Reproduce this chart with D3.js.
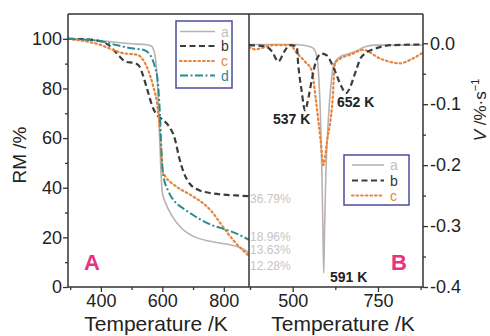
<!DOCTYPE html>
<html><head><meta charset="utf-8">
<script src="https://cdn.jsdelivr.net/npm/d3@7/dist/d3.min.js"></script>
<style>
body{margin:0;background:#fff;}
svg{display:block;font-family:"Liberation Sans",Arial,sans-serif;}
</style></head>
<body><svg id="c" width="490" height="336"></svg>
<script>
// ---- Data: panel A (TG, residual mass %) ----
const tgA_T = [293,400,500,550,565,575,585,590,595,600,610,630,660,700,760,820,850,870,882];
const tgA_V = [100,99.2,98,97.6,97,94,80,65,48,38,34,29,24,20.5,18.3,17,16,14.8,13.6];
const tgB_T = [293,350,400,430,460,480,510,525,535,550,570,585,600,620,640,655,670,690,720,760,800,840,882];
const tgB_V = [100,99.8,99,97,93,90.8,90.2,89,86,80,72,69,67.5,65,60,52,46,41.5,39,37.8,37.2,36.9,36.6];
const tgC_T = [293,350,400,440,470,520,540,555,570,585,595,600,610,640,700,740,760,790,830,882];
const tgC_V = [100,99,97.5,95.5,94.3,93.5,91,87,81,72,58,47,44.5,41,36.5,33,30.5,25.5,19,12.5];
const tgD_T = [293,400,450,500,540,560,575,585,592,597,603,620,640,670,700,750,810,850,882];
const tgD_V = [100,99,97.5,96.2,95.5,93.5,89,83,70,55,45,38.5,34.5,31.5,29,25.5,23,21,19];
const tgLabels = ["36.79%","18.96%","13.63%","12.28%"];

// ---- Data: panel B (DTG, V %/s) ----
const dtgA_T = [372,500,540,560,570,577,582,586,589,591,593,597,604,612,620,640,660,690,710,740,882];
const dtgA_V = [-0.002,-0.002,-0.004,-0.008,-0.02,-0.06,-0.13,-0.22,-0.32,-0.377,-0.32,-0.22,-0.13,-0.07,-0.035,-0.022,-0.018,-0.012,-0.006,-0.003,-0.003];
const dtgB_T = [372,420,440,458,475,492,512,516,526,536,546,556,570,585,600,619,643,656,670,683,702,746,795,882];
const dtgB_V = [-0.003,-0.005,-0.014,-0.03,-0.014,-0.003,-0.005,-0.033,-0.077,-0.11,-0.09,-0.06,-0.027,-0.017,-0.02,-0.039,-0.071,-0.082,-0.07,-0.049,-0.022,-0.008,-0.003,-0.002];
const dtgC_T = [372,390,420,443,492,512,536,556,568,582,590,601,617,624,640,668,707,756,814,852,880];
const dtgC_V = [-0.006,-0.01,-0.006,-0.003,-0.003,-0.016,-0.03,-0.045,-0.093,-0.16,-0.2,-0.16,-0.093,-0.033,-0.025,-0.019,-0.011,-0.025,-0.033,-0.025,-0.016];
const peakLabels = ["537 K","652 K","591 K"];

const legendNames = ["a","b","c","d"];
const xTicksA = [400,600,800], xMinorA = [300,500,700];
const xTicksB = [500,750], xMinorB = [375,625,875];
const yTicksA = [0,20,40,60,80,100], yMinorA = [10,30,50,70,90];
const yTicksB = [0,-0.1,-0.2,-0.3,-0.4], yMinorB = [-0.05,-0.15,-0.25,-0.35];

// ---- Layout ----
const yTop = 14, yBot = 287, xA0 = 68, xA1 = 249, xB1 = 423;
const svg = d3.select("#c");
const xA = d3.scaleLinear().domain([293,882]).range([xA0,xA1]);
const xB = d3.scaleLinear().domain([372,882]).range([xA1,xB1]);
const yA = d3.scaleLinear().domain([0,110]).range([yBot,yTop]);
const yB = d3.scaleLinear().domain([-0.4,0.048]).range([yBot,yTop]);

const col = {a:"#b9b2b0", b:"#3c3c3c", c:"#e8843c", d:"#2a8c92"};
const lblCol = {a:"#c4c0c0", b:"#333", c:"#e8843c", d:"#2a8c92"};
const style = {
  a:{w:1.6, dash:null},
  b:{w:2.2, dash:"6,3.5"},
  c:{w:2.2, dash:"1.6,3"},
  d:{w:2.0, dash:"8,2.5,2,2.5"}
};

const defs = svg.append("defs");
defs.append("clipPath").attr("id","clA").append("rect").attr("x",xA0).attr("y",yTop).attr("width",xA1-xA0).attr("height",yBot-yTop);
defs.append("clipPath").attr("id","clB").append("rect").attr("x",xA1).attr("y",yTop).attr("width",xB1-xA1).attr("height",yBot-yTop);

function drawLine(g, Ts, Vs, x, y, k){
  const line = d3.line().x(d=>x(d[0])).y(d=>y(d[1])).curve(d3.curveMonotoneX);
  const p = g.append("path").datum(Ts.map((t,i)=>[t,Vs[i]]))
    .attr("d",line).attr("fill","none").attr("stroke",col[k])
    .attr("stroke-width",style[k].w).attr("stroke-linejoin","round");
  if(style[k].dash) p.attr("stroke-dasharray",style[k].dash);
  if(k==="c") p.attr("stroke-linecap","round");
}

const gA = svg.append("g").attr("clip-path","url(#clA)");
drawLine(gA,tgA_T,tgA_V,xA,yA,"a");
drawLine(gA,tgB_T,tgB_V,xA,yA,"b");
drawLine(gA,tgC_T,tgC_V,xA,yA,"c");
drawLine(gA,tgD_T,tgD_V,xA,yA,"d");

const gB = svg.append("g").attr("clip-path","url(#clB)");
drawLine(gB,dtgA_T,dtgA_V,xB,yB,"a");
drawLine(gB,dtgC_T,dtgC_V,xB,yB,"c");
drawLine(gB,dtgB_T,dtgB_V,xB,yB,"b");

// ---- Axes ----
const axCol = "#333";
function styleAxis(g){
  g.select(".domain").remove();
  g.selectAll("line").attr("stroke",axCol).attr("stroke-width",1.3);
  g.selectAll("text").attr("fill","#222").style("font-size","18px").style("font-family","'Liberation Sans',Arial,sans-serif");
}
svg.append("g").attr("transform",`translate(0,${yBot})`)
  .call(d3.axisBottom(xA).tickValues(xTicksA).tickSize(5).tickPadding(2).tickFormat(d3.format("d"))).call(styleAxis);
svg.append("g").attr("transform",`translate(0,${yBot})`)
  .call(d3.axisBottom(xA).tickValues(xMinorA).tickSize(3).tickFormat("")).call(styleAxis);
svg.append("g").attr("transform",`translate(0,${yBot})`)
  .call(d3.axisBottom(xB).tickValues(xTicksB).tickSize(5).tickPadding(2).tickFormat(d3.format("d"))).call(styleAxis);
svg.append("g").attr("transform",`translate(0,${yBot})`)
  .call(d3.axisBottom(xB).tickValues(xMinorB).tickSize(3).tickFormat("")).call(styleAxis);
svg.append("g").attr("transform",`translate(${xA0},0)`)
  .call(d3.axisLeft(yA).tickValues(yTicksA).tickSize(5).tickPadding(1).tickFormat(d3.format("d"))).call(styleAxis);
svg.append("g").attr("transform",`translate(${xA0},0)`)
  .call(d3.axisLeft(yA).tickValues(yMinorA).tickSize(3).tickFormat("")).call(styleAxis);
svg.append("g").attr("transform",`translate(${xB1},0)`)
  .call(d3.axisRight(yB).tickValues(yTicksB).tickSize(5).tickPadding(2).tickFormat(d=>d3.format(".1f")(d).replace("−","-"))).call(styleAxis);
svg.append("g").attr("transform",`translate(${xB1},0)`)
  .call(d3.axisRight(yB).tickValues(yMinorB).tickSize(3).tickFormat("")).call(styleAxis);

const frame = svg.append("g").attr("stroke",axCol).attr("stroke-width",1.5);
frame.append("line").attr("x1",xA0).attr("x2",xB1).attr("y1",yTop).attr("y2",yTop);
frame.append("line").attr("x1",xA0).attr("x2",xB1).attr("y1",yBot).attr("y2",yBot);
frame.append("line").attr("x1",xA0).attr("x2",xA0).attr("y1",yTop).attr("y2",yBot);
frame.append("line").attr("x1",xA1).attr("x2",xA1).attr("y1",yTop).attr("y2",yBot);
frame.append("line").attr("x1",xB1).attr("x2",xB1).attr("y1",yTop).attr("y2",yBot);

svg.append("text").attr("x",156).attr("y",331).attr("text-anchor","middle")
  .style("font-size","21px").attr("fill","#222").text("Temperature /K");
svg.append("text").attr("x",343).attr("y",331).attr("text-anchor","middle")
  .style("font-size","21px").attr("fill","#222").text("Temperature /K");
svg.append("text").attr("transform","translate(26,155) rotate(-90)").attr("text-anchor","middle")
  .style("font-size","19px").attr("fill","#222").text("RM /%");
const vt = svg.append("text").attr("transform","translate(486,110) rotate(-90)").attr("text-anchor","middle")
  .style("font-size","17px").attr("fill","#222");
vt.append("tspan").style("font-style","italic").text("V");
vt.append("tspan").text(" /%·s");
vt.append("tspan").attr("dy",-7).style("font-size","11px").text("−1");

const pctY = [203,241,254,270];
tgLabels.forEach((t,i)=>svg.append("text").attr("x",xA1+1).attr("y",pctY[i])
  .style("font-size","12px").attr("fill","#c8c4c4").text(t));

const pk = [[273,124],[337,107],[330,282]];
peakLabels.forEach((t,i)=>svg.append("text").attr("x",pk[i][0]).attr("y",pk[i][1])
  .style("font-size","14px").style("font-weight","bold").attr("fill","#222").text(t));

svg.append("text").attr("x",84).attr("y",270).style("font-size","22px").style("font-weight","bold").attr("fill","#e8337f").text("A");
svg.append("text").attr("x",391).attr("y",270).style("font-size","22px").style("font-weight","bold").attr("fill","#e8337f").text("B");

function legend(x0,y0,w,h,keys,rowY,lx0,lx1,tx){
  svg.append("rect").attr("x",x0).attr("y",y0).attr("width",w).attr("height",h)
    .attr("fill","#fff").attr("stroke","#4c4ca0").attr("stroke-width",1.5);
  keys.forEach((k,i)=>{
    const l = svg.append("line").attr("x1",lx0).attr("x2",lx1).attr("y1",rowY[i]).attr("y2",rowY[i])
      .attr("stroke",col[k]).attr("stroke-width",style[k].w);
    if(style[k].dash) l.attr("stroke-dasharray",style[k].dash);
    if(k==="c") l.attr("stroke-linecap","round");
    svg.append("text").attr("x",tx).attr("y",rowY[i]+5).style("font-size","14px")
      .attr("fill",lblCol[k]).text(legendNames[legendNames.indexOf(k)]);
  });
}
legend(176,21,56,67,["a","b","c","d"],[31.5,46,61,75.5],180,215,221);
legend(344,155,65,50,["a","b","c"],[165,180.5,195.5],352,384,390);
</script></body></html>
